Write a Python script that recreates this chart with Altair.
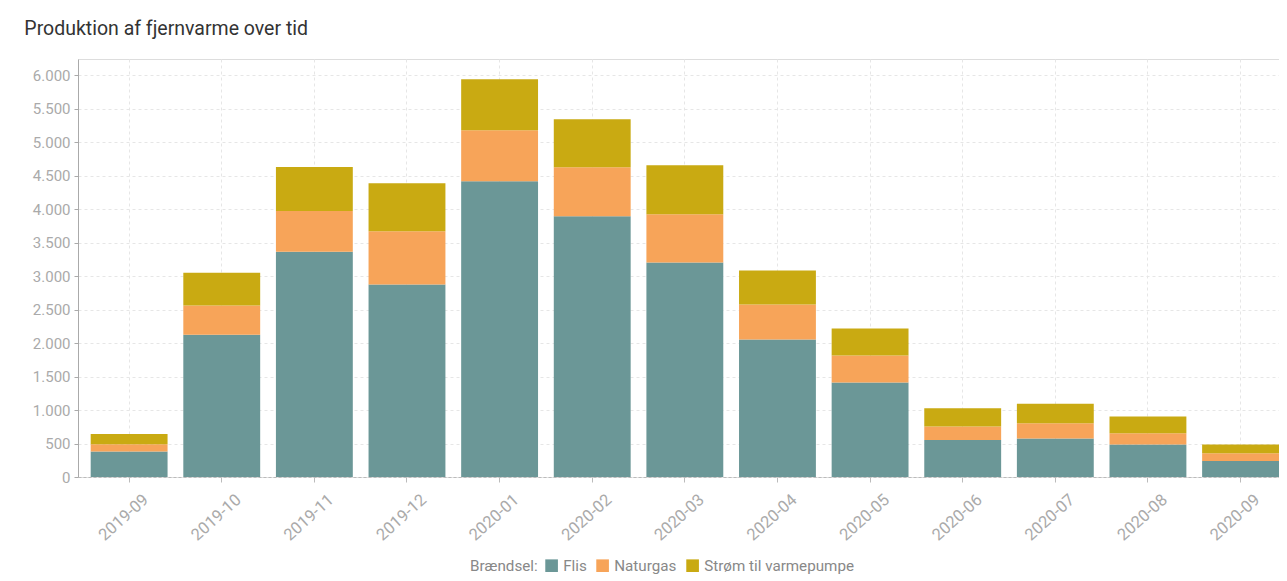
import altair as alt
import pandas as pd

months = ["2019-09", "2019-10", "2019-11", "2019-12", "2020-01", "2020-02", "2020-03",
          "2020-04", "2020-05", "2020-06", "2020-07", "2020-08", "2020-09"]
flis = [380, 2125, 3363, 2874, 4414, 3891, 3203, 2052, 1410, 553, 574, 484, 239]
naturgas = [109, 436, 607, 793, 762, 732, 718, 523, 403, 200, 229, 169, 115]
strom = [154, 489, 658, 717, 763, 718, 732, 509, 404, 274, 289, 250, 130]

fuels = ["Flis", "Naturgas", "Strøm til varmepumpe"]
colors = ["#6b9797", "#f7a459", "#c9aa12"]

rows = []
for i, m in enumerate(months):
    for k, (name, series) in enumerate(zip(fuels, [flis, naturgas, strom])):
        rows.append({"Måned": m, "Brændsel": name, "Værdi": series[i], "order": k})
df = pd.DataFrame(rows)

chart = alt.Chart(df).mark_bar().encode(
    x=alt.X("Måned:N", sort=months, title=None,
            scale=alt.Scale(paddingInner=0.17, paddingOuter=0.0685, align=1),
            axis=alt.Axis(labelAngle=-42, labelAlign="right", labelBaseline="middle",
                          labelColor="#aaaaaa", labelFontSize=16.5, labelFont="Roboto",
                          labelPadding=15, labelOffset=17,
                          domainColor="#bbbbbb", domainDash=[3, 2], tickColor="#bbbbbb",
                          tickSize=5, grid=True, gridDash=[3, 3], gridColor="#e6e6e6")),
    y=alt.Y("Værdi:Q", stack="zero", title=None,
            scale=alt.Scale(domain=[0, 6240], nice=False),
            axis=alt.Axis(values=list(range(0, 6001, 500)), format=",.0f",
                          labelColor="#aaaaaa", labelFontSize=15, labelFont="Roboto",
                          labelPadding=4,
                          domainColor="#aaaaaa", tickColor="#aaaaaa", tickSize=4,
                          gridDash=[3, 3], gridColor="#e6e6e6")),
    color=alt.Color("Brændsel:N", sort=fuels,
                    scale=alt.Scale(domain=fuels, range=colors),
                    legend=alt.Legend(title="Brændsel:", orient="none", direction="horizontal",
                                      legendX=392, legendY=499,
                                      titleOrient="left", titleFontWeight="normal",
                                      titleColor="#888888", titleFontSize=15.2, titleFont="Roboto",
                                      labelColor="#888888", labelFontSize=15.2, labelFont="Roboto",
                                      symbolType="square", symbolSize=160, symbolStrokeWidth=0,
                                      columnPadding=8, labelOffset=4, titlePadding=6)),
    order=alt.Order("order:Q", sort="ascending"),
).properties(
    width=1201,
    height=418,
    title=alt.TitleParams("Produktion af fjernvarme over tid", anchor="start", frame="bounds",
                          font="Roboto", fontSize=19.5, fontWeight="normal", color="#333333",
                          offset=20, dx=-8),
    padding={"left": 16, "top": 10, "right": 0, "bottom": 0},
).configure_view(stroke=None).configure_axis(labelFont="Roboto").configure(
    locale=alt.Locale(number={"decimal": ",", "thousands": ".", "grouping": [3], "currency": ["", " kr."]})
)

chart.save("out.html", embed_options={"renderer": "svg", "actions": False})
